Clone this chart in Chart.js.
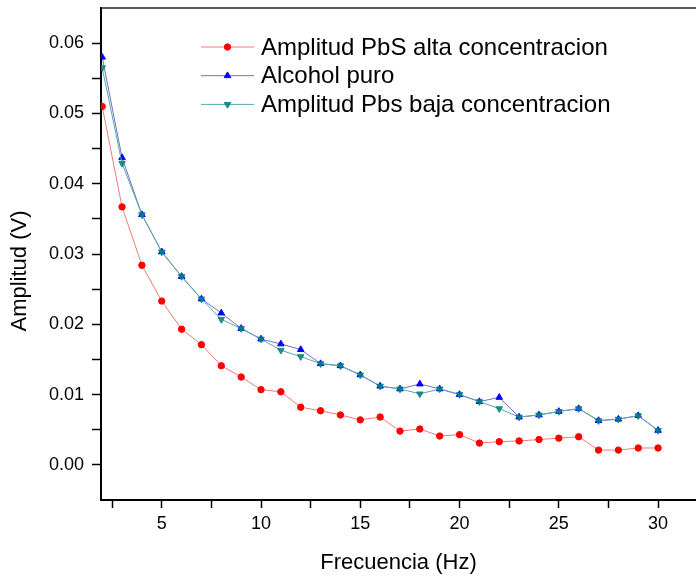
<!DOCTYPE html>
<html>
<head>
<meta charset="utf-8">
<title>Amplitud vs Frecuencia</title>
<script src="https://cdn.jsdelivr.net/npm/chart.js@4.4.1/dist/chart.umd.min.js"></script>
<style>
  html, body { margin: 0; padding: 0; background: #fff; }
  canvas { display: block; }
</style>
</head>
<body>
<canvas id="chart" width="696" height="576"></canvas>
<script>
// Frequencies (Hz)
const freq = [2, 3, 4, 5, 6, 7, 8, 9, 10, 11, 12, 13, 14, 15, 16, 17, 18, 19, 20, 21, 22, 23, 24, 25, 26, 27, 28, 29, 30];

// Amplitud (V)
const altaConc = [0.0510, 0.0367, 0.0284, 0.0233, 0.0193, 0.0171, 0.0141, 0.0125, 0.0107, 0.0104,
  0.0082, 0.0077, 0.0071, 0.0064, 0.0068, 0.0048, 0.0051, 0.0041, 0.0043, 0.0031,
  0.0033, 0.0034, 0.0036, 0.0038, 0.0040, 0.0021, 0.0021, 0.0024, 0.0024];
const alcoholPuro = [0.0580, 0.0437, 0.0356, 0.0303, 0.0268, 0.0236, 0.0216, 0.0194, 0.0179, 0.0172,
  0.0164, 0.0144, 0.0141, 0.0128, 0.0112, 0.0108, 0.0115, 0.0108, 0.0100, 0.0090,
  0.0096, 0.0068, 0.0071, 0.0076, 0.0080, 0.0063, 0.0065, 0.0070, 0.0049];
const bajaConc = [0.0565, 0.0429, 0.0356, 0.0303, 0.0268, 0.0236, 0.0207, 0.0194, 0.0179, 0.0163,
  0.0154, 0.0144, 0.0141, 0.0128, 0.0112, 0.0108, 0.0101, 0.0108, 0.0100, 0.0090,
  0.0080, 0.0068, 0.0071, 0.0076, 0.0080, 0.0063, 0.0065, 0.0070, 0.0049];

const seriesLabels = ['Amplitud PbS alta concentracion', 'Alcohol puro', 'Amplitud Pbs baja concentracion'];

// Tick positions (major + minor)
const xTicks = [2.5, 5, 7.5, 10, 12.5, 15, 17.5, 20, 22.5, 25, 27.5, 30];
const yTicks = [0, 0.005, 0.01, 0.015, 0.02, 0.025, 0.03, 0.035, 0.04, 0.045, 0.05, 0.055, 0.06];

const FONT = 'Arial, "Liberation Sans", sans-serif';

const toPoints = (ys) => freq.map((x, i) => ({ x: x, y: ys[i] }));

// Legend with line + marker, top border and rotated y title
const extras = {
  id: 'extras',
  afterDraw(chart) {
    const ctx = chart.ctx;
    const area = chart.chartArea;
    ctx.save();

    // top frame line
    ctx.strokeStyle = '#222';
    ctx.lineWidth = 1.5;
    ctx.beginPath();
    ctx.moveTo(area.left, area.top);
    ctx.lineTo(chart.width, area.top);
    ctx.stroke();

    // y axis title
    ctx.fillStyle = '#000';
    ctx.font = '22px ' + FONT;
    ctx.textAlign = 'center';
    ctx.textBaseline = 'middle';
    ctx.translate(20, 271);
    ctx.rotate(-Math.PI / 2);
    ctx.fillText('Amplitud (V)', 0, 0);
    ctx.restore();

    // legend (in dataset order)
    ctx.save();
    chart.data.datasets.forEach((ds, i) => {
      const y = 47 + i * 28.7;
      ctx.strokeStyle = ds.borderColor;
      ctx.lineWidth = 1;
      ctx.beginPath();
      ctx.moveTo(201, y);
      ctx.lineTo(254, y);
      ctx.stroke();
      ctx.fillStyle = ds.pointBackgroundColor;
      ctx.strokeStyle = ds.pointBorderColor;
      Chart.helpers.drawPoint(ctx, {
        pointStyle: ds.pointStyle,
        radius: ds.pointRadius,
        rotation: ds.pointRotation || 0,
        borderWidth: 1
      }, 227.5, y);
      ctx.fillStyle = '#000';
      ctx.font = '24px ' + FONT;
      ctx.textAlign = 'left';
      ctx.textBaseline = 'middle';
      ctx.fillText(ds.label, 261, y + 1);
    });
    ctx.restore();
  }
};

new Chart(document.getElementById('chart'), {
  type: 'line',
  data: {
    datasets: [
      {
        label: seriesLabels[0],
        data: toPoints(altaConc),
        order: 2,
        borderColor: '#ef7a7a',
        borderWidth: 1,
        pointStyle: 'circle',
        pointRadius: 3.2,
        pointBackgroundColor: '#ff0000',
        pointBorderColor: '#ff0000',
        pointBorderWidth: 1
      },
      {
        label: seriesLabels[1],
        data: toPoints(alcoholPuro),
        order: 1,
        borderColor: '#6f6fc6',
        borderWidth: 1,
        pointStyle: 'triangle',
        pointRadius: 3.8,
        pointBackgroundColor: '#0000ff',
        pointBorderColor: '#0000ff',
        pointBorderWidth: 1
      },
      {
        label: seriesLabels[2],
        data: toPoints(bajaConc),
        order: 0,
        borderColor: '#5aa7a7',
        borderWidth: 1,
        pointStyle: 'triangle',
        pointRotation: 180,
        pointRadius: 3.8,
        pointBackgroundColor: 'rgba(0,128,128,0.85)',
        pointBorderColor: 'rgba(0,128,128,0.85)',
        pointBorderWidth: 1
      }
    ]
  },
  options: {
    responsive: false,
    animation: false,
    layout: { autoPadding: false, padding: { top: 8, right: 0, left: 0, bottom: 0 } },
    plugins: {
      legend: { display: false },
      tooltip: { enabled: false }
    },
    scales: {
      x: {
        type: 'linear',
        min: 1.94,
        max: 31.91,
        afterFit(scale) {
          scale.height = 76;
          scale.paddingLeft = 0;
          scale.paddingRight = 0;
        },
        afterBuildTicks(scale) { scale.ticks = xTicks.map(v => ({ value: v })); },
        grid: { drawOnChartArea: false, drawTicks: true, tickLength: 8, color: '#000', tickWidth: 1.5 },
        border: { display: true, color: '#000', width: 2 },
        ticks: {
          color: '#000',
          font: { family: FONT, size: 18 },
          padding: 5,
          maxRotation: 0,
          autoSkip: false,
          callback: (v) => (v % 5 === 0 ? String(v) : '')
        },
        title: {
          display: true,
          text: 'Frecuencia (Hz)',
          color: '#000',
          font: { family: FONT, size: 22 },
          padding: { top: 0, bottom: 0 }
        }
      },
      y: {
        type: 'linear',
        min: -0.005,
        max: 0.065,
        afterFit(scale) {
          scale.width = 101;
          scale.paddingTop = 0;
          scale.paddingBottom = 0;
        },
        afterBuildTicks(scale) { scale.ticks = yTicks.map(v => ({ value: v })); },
        grid: { drawOnChartArea: false, drawTicks: true, tickLength: 9, color: '#000', tickWidth: 1.5 },
        border: { display: true, color: '#000', width: 2 },
        ticks: {
          color: '#000',
          font: { family: FONT, size: 18 },
          padding: 8,
          autoSkip: false,
          callback: (v) => (Math.round(v * 1000) % 10 === 0 ? v.toFixed(2) : '')
        },
        title: { display: false }
      }
    }
  },
  plugins: [extras]
});
</script>
</body>
</html>
